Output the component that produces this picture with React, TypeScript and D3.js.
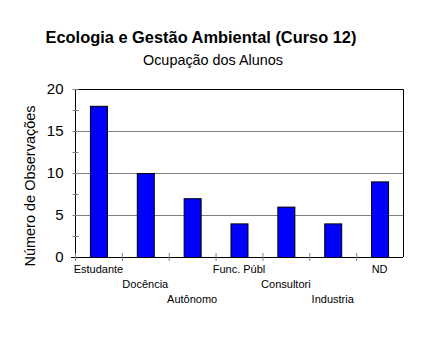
import * as d3 from "d3";
import { useEffect, useRef } from "react";

const categories = ["Estudante", "Docência", "Autônomo", "Func. Públ", "Consultori", "Industria", "ND"];
const values = [18, 10, 7, 4, 6, 4, 9];
const majorTicks = [0, 5, 10, 15, 20];
const minorTicks = [2.5, 7.5, 12.5, 17.5];

const W = 441;
const H = 362;
const m = { left: 75, right: 38, top: 89, bottom: 105 };

export default function App() {
  const ref = useRef<SVGSVGElement | null>(null);

  useEffect(() => {
    const svg = d3.select(ref.current);
    svg.selectAll("*").remove();
    const font = "Arial, 'Liberation Sans', sans-serif";

    const x = d3.scaleBand<string>().domain(categories).range([m.left, W - m.right]);
    const y = d3.scaleLinear().domain([0, 20]).range([H - m.bottom, m.top]);

    // titulo
    svg.append("text")
      .attr("x", 201).attr("y", 43)
      .attr("text-anchor", "middle")
      .style("font-family", font).style("font-size", "16.4px").style("font-weight", "bold")
      .text("Ecologia e Gestão Ambiental (Curso 12)");
    svg.append("text")
      .attr("x", 213).attr("y", 65)
      .attr("text-anchor", "middle")
      .style("font-family", font).style("font-size", "14.4px")
      .text("Ocupação dos Alunos");

    // grade
    svg.append("g")
      .selectAll("line")
      .data(majorTicks.filter((d) => d > 0 && d < 20))
      .join("line")
      .attr("x1", m.left).attr("x2", W - m.right)
      .attr("y1", (d) => y(d) + 0.5).attr("y2", (d) => y(d) + 0.5)
      .attr("stroke", "#808080");

    // borda superior e direita
    svg.append("path")
      .attr("d", `M${m.left},${y(20) + 0.5}H${W - m.right + 0.5}V${y(0)}`)
      .attr("fill", "none").attr("stroke", "#000");

    // barras
    const bw = 17;
    svg.append("g")
      .selectAll("rect")
      .data(values)
      .join("rect")
      .attr("x", (_, i) => x(categories[i])! + x.bandwidth() / 2 - bw / 2 + 0.5)
      .attr("y", (d) => y(d) + 0.5)
      .attr("width", bw)
      .attr("height", (d) => y(0) - y(d))
      .attr("fill", "#0000ff")
      .attr("stroke", "#000");

    // eixo y
    const ya = svg.append("g").attr("transform", `translate(${m.left + 0.5},0)`);
    ya.append("line").attr("y1", y(20)).attr("y2", y(0)).attr("stroke", "#000");
    ya.selectAll("line.mn")
      .data([...majorTicks, ...minorTicks])
      .join("line")
      .attr("class", "mn")
      .attr("x1", -3).attr("x2", 3)
      .attr("y1", (d) => y(d) + 0.5).attr("y2", (d) => y(d) + 0.5)
      .attr("stroke", "#808080");
    ya.selectAll("text")
      .data(majorTicks)
      .join("text")
      .attr("x", -12).attr("y", (d) => y(d) + 5)
      .attr("text-anchor", "end")
      .style("font-family", font).style("font-size", "15px")
      .text((d) => d);

    // eixo x
    const xa = svg.append("g");
    xa.append("line")
      .attr("x1", m.left - 4).attr("x2", W - m.right)
      .attr("y1", y(0) + 0.5).attr("y2", y(0) + 0.5)
      .attr("stroke", "#000");
    xa.selectAll("line.t")
      .data(categories)
      .join("line")
      .attr("class", "t")
      .attr("x1", (d) => x(d)! + 0.5).attr("x2", (d) => x(d)! + 0.5)
      .attr("y1", y(0) - 4).attr("y2", y(0) + 4)
      .attr("stroke", "#808080");
    xa.selectAll("text")
      .data(categories)
      .join("text")
      .attr("x", (d) => x(d)! + x.bandwidth() / 2)
      .attr("y", (_, i) => y(0) + 16 + (i % 3) * 15)
      .attr("text-anchor", "middle")
      .style("font-family", font).style("font-size", "11px")
      .text((d) => d);

    // rotulo y
    svg.append("text")
      .attr("transform", `translate(35,186) rotate(-90)`)
      .attr("text-anchor", "middle")
      .style("font-family", font).style("font-size", "14.5px")
      .text("Número de Observações");
  }, []);

  return (
    <svg
      ref={ref}
      width={W}
      height={H}
      style={{ position: "absolute", left: 0, top: 0, background: "#fff" }}
    />
  );
}
